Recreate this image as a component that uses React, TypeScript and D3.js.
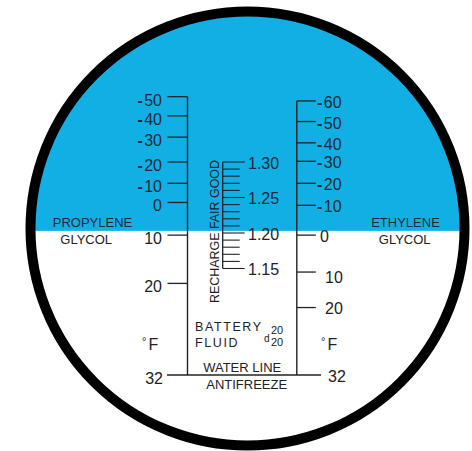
import React from "react";
import * as d3 from "d3";

// Propylene glycol freeze-point scale (°F) and the equivalent reading on the common scale
const propyleneTemps = [-50, -40, -30, -20, -10, 0, 10, 20, 32];
const propyleneReading = [1.392, 1.365, 1.335, 1.3, 1.27, 1.243, 1.197, 1.129, 1.0];
// Ethylene glycol freeze-point scale (°F)
const ethyleneTemps = [-60, -50, -40, -30, -20, -10, 0, 10, 20, 32];
const ethyleneReading = [1.386, 1.357, 1.327, 1.301, 1.27, 1.239, 1.197, 1.145, 1.095, 1.0];
// Battery fluid specific gravity
const batteryMajor = [1.15, 1.2, 1.25, 1.3];
const batteryMinor = [1.15, 1.16, 1.17, 1.18, 1.19, 1.2, 1.21, 1.22, 1.23, 1.24, 1.25, 1.26, 1.27, 1.28, 1.29, 1.3];
const batteryZone = "RECHARGE FAIR GOOD";
const shadowReading = 1.203; // light/dark boundary
const waterReading = 1.0;

const W = 472;
const H = 451;
const FONT = "'Liberation Sans', Arial, Helvetica, sans-serif";
const BLUE = "#12AFE5";
const INK = "#222";
const INK_BLUE = "#1b2a36";

function TempLabel({ t }: { t: number }) {
  if (t < 0) {
    return (
      <>
        <tspan fontWeight="bold">-</tspan>
        <tspan dx={1.5}>{String(Math.abs(t))}</tspan>
      </>
    );
  }
  return <>{String(t)}</>;
}

export default function App() {
  const y = d3.scaleLinear().domain([1.0, 1.3]).range([375, 162]);
  const cx = 247.5;
  const cy = 228.5;
  const r = 217;
  const leftX = 187.5;
  const rightX = 296.8;
  const battX = 222.7;
  const shadowY = y(shadowReading);
  const waterY = y(waterReading);
  const inBlue = (yy: number) => yy < shadowY;

  return (
    <svg
      width={W}
      height={H}
      style={{ position: "absolute", left: 0, top: 0, background: "#fff" }}
      fontFamily={FONT}
    >
      <defs>
        <clipPath id="lens">
          <circle cx={cx} cy={cy} r={r} />
        </clipPath>
      </defs>
      <circle cx={cx} cy={cy} r={r} fill="#fff" />
      <rect x={0} y={0} width={W} height={shadowY} fill={BLUE} clipPath="url(#lens)" />

      {/* Propylene scale */}
      <line x1={leftX} x2={leftX} y1={y(propyleneReading[0])} y2={waterY} stroke={INK} strokeWidth={1.4} />
      {propyleneTemps.map((t, i) => {
        const yy = y(propyleneReading[i]);
        return (
          <g key={"p" + t}>
            {t !== 32 && <line x1={leftX - 20} x2={leftX} y1={yy} y2={yy} stroke={INK} strokeWidth={1.3} />}
            <text
              x={t === 32 ? 163 : 162}
              y={yy + 3}
              dominantBaseline="central"
              textAnchor="end"
              fontSize={16}
              fill={inBlue(yy) ? INK_BLUE : INK}
            >
              <TempLabel t={t} />
            </text>
          </g>
        );
      })}

      {/* Ethylene scale */}
      <line x1={rightX} x2={rightX} y1={y(ethyleneReading[0])} y2={waterY} stroke={INK} strokeWidth={1.4} />
      {ethyleneTemps.map((t, i) => {
        const yy = y(ethyleneReading[i]);
        const lower = t >= 10;
        return (
          <g key={"e" + t}>
            {t !== 32 && <line x1={rightX} x2={rightX + 19} y1={yy} y2={yy} stroke={INK} strokeWidth={1.3} />}
            <text
              x={t === 32 ? 328 : lower ? 325 : t === 0 ? 320 : 317}
              y={yy + (t === 10 ? 5 : 1)}
              dominantBaseline="central"
              textAnchor="start"
              fontSize={16}
              fill={inBlue(yy) ? INK_BLUE : INK}
            >
              <TempLabel t={t} />
            </text>
          </g>
        );
      })}

      {/* water line */}
      <line x1={167} x2={321} y1={waterY} y2={waterY} stroke={INK} strokeWidth={1.4} />

      {/* Battery scale */}
      <line
        x1={battX}
        x2={battX}
        y1={y(d3.max(batteryMinor)!)}
        y2={y(d3.min(batteryMinor)!)}
        stroke={INK}
        strokeWidth={1.3}
      />
      {batteryMinor.map((v) => {
        const major = batteryMajor.some((m) => Math.abs(m - v) < 1e-6);
        const yy = y(v);
        return (
          <line
            key={"b" + v}
            x1={battX}
            x2={battX + (major ? 22 : 17)}
            y1={yy}
            y2={yy}
            stroke={INK}
            strokeWidth={1.1}
          />
        );
      })}
      {batteryMajor.map((v) => (
        <text
          key={"bl" + v}
          x={248}
          y={y(v) + 1}
          dominantBaseline="central"
          fontSize={16}
          fill={inBlue(y(v)) ? INK_BLUE : INK}
        >
          {v.toFixed(2)}
        </text>
      ))}
      <text
        transform={`translate(219,${(160 + 303) / 2}) rotate(-90)`}
        textAnchor="middle"
        fontSize={13.5}
        textLength={143}
        lengthAdjust="spacingAndGlyphs"
        fill={INK}
      >
        {batteryZone}
      </text>

      {/* Labels */}
      <g fontSize={13} fill={INK_BLUE} textAnchor="middle">
        <text x={92.5} y={227.3}>PROPYLENE</text>
        <text x={405.5} y={227.3}>ETHYLENE</text>
      </g>
      <g fontSize={13} fill={INK} textAnchor="middle">
        <text x={86.2} y={244.3}>GLYCOL</text>
        <text x={404.7} y={244.3}>GLYCOL</text>
        <text x={242.2} y={371.5}>WATER LINE</text>
        <text x={246.7} y={388.5}>ANTIFREEZE</text>
      </g>
      <g fontSize={12.5} fill={INK} letterSpacing={1.6}>
        <text x={195} y={330.5}>BATTERY</text>
        <text x={195} y={347}>FLUID</text>
      </g>
      <text x={264} y={342} fontSize={10} fill={INK}>d</text>
      <text x={271} y={333.5} fontSize={11} fill={INK}>20</text>
      <text x={271} y={346} fontSize={11} fill={INK}>20</text>
      <g fontSize={16} fill={INK}>
        <text x={142} y={350}>
          <tspan fontSize={11} dy={-5}>°</tspan>
          <tspan dx={2} dy={5}>F</tspan>
        </text>
        <text x={321} y={350}>
          <tspan fontSize={11} dy={-5}>°</tspan>
          <tspan dx={2} dy={5}>F</tspan>
        </text>
      </g>

      {/* Lens rim */}
      <circle cx={cx} cy={cy} r={r} fill="none" stroke="#000" strokeWidth={10} />
    </svg>
  );
}
